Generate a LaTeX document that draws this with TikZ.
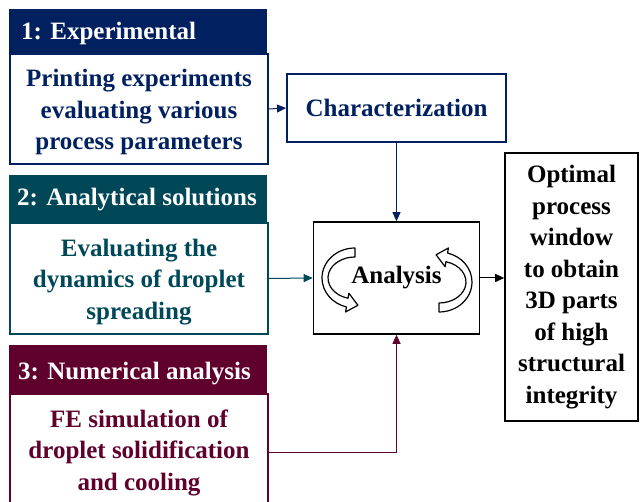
\documentclass[tikz,border=0pt]{standalone}
\usepackage{fontspec}
\setmainfont{Liberation Serif}
\usetikzlibrary{arrows.meta}
\definecolor{cnavy}{RGB}{0,32,96}
\definecolor{cteal}{RGB}{0,72,88}
\definecolor{cmaroon}{RGB}{96,0,44}
\tikzset{
  cyc/.pic={
    \draw[line width=1.2pt, fill=white, line join=round]
      (0,30) arc[start angle=90,end angle=255,x radius=33,y radius=30]
      -- (-9.43,-33.99) -- (2.91,-27.24) -- (-6.11,-15.27) -- (-6.99,-20.28)
      arc[start angle=255,end angle=90,x radius=27,y radius=21] -- cycle;
  }
}
\begin{document}
\begin{tikzpicture}[x=1pt,y=1pt,
  bigfont/.style={font=\fontsize{25}{31.5}\selectfont\bfseries},
  hdr/.style={rectangle, minimum width=258pt, inner sep=0pt, anchor=north west},
  hdrtext/.style={bigfont, text=white, inner sep=0pt, anchor=base west},
  body/.style={rectangle, draw, line width=2pt, minimum width=258pt, inner sep=0pt, anchor=north west, align=center, bigfont},
  blackbox/.style={rectangle, draw=black, line width=1.6pt, inner sep=0pt, align=center, bigfont},
  conn/.style={line width=1pt, -{Triangle[length=9pt,width=8pt]}},
]
\useasboundingbox (0,0) rectangle (641,502);
% box 1
\node[hdr, fill=cnavy, minimum height=44pt] (h1) at (9,493) {};
\node[hdrtext] (h1t) at (21,462) {1: Experimental};
\node[body, draw=cnavy, text=cnavy, minimum height=110pt] (b1) at (9,449)
  {\rule{0pt}{24pt}Printing experiments\\evaluating various\\process parameters};
% box 2
\node[hdr, fill=cteal, minimum height=47pt] (h2) at (9,327) {};
\node[hdrtext] (h2t) at (17,296) {2: Analytical solutions};
\node[body, draw=cteal, text=cteal, minimum height=111pt] (b2) at (9,280)
  {\rule{0pt}{24pt}Evaluating the\\dynamics of droplet\\spreading};
% box 3
\node[hdr, fill=cmaroon, minimum height=48pt] (h3) at (9,157) {};
\node[hdrtext] (h3t) at (18,122) {3: Numerical analysis};
\node[body, draw=cmaroon, text=cmaroon, minimum height=117pt] (b3) at (9,109)
  {FE simulation of\\droplet solidification\\and cooling};
% characterization
\node[rectangle, draw=cnavy, line width=2pt, text=cnavy, bigfont, inner sep=0pt,
  minimum width=219pt, minimum height=68pt] (char) at (396.5,394) {Characterization};
% analysis
\node[blackbox, minimum width=166pt, minimum height=112pt] (ana) at (396.5,224) {Analysis};
\pic at (355,224) {cyc};
\pic[rotate=180] at (439,220) {cyc};
% optimal
\node[blackbox, minimum width=133pt, minimum height=268pt] (opt) at (571.5,215)
  {Optimal\\process\\window\\to obtain\\3D parts\\of high\\structural\\integrity};
% connectors
\draw[conn, cnavy] (b1.east) -- (char.west);
\draw[conn, cnavy] (char.south) -- (ana.north);
\draw[conn, cteal] (b2.east) -- (ana.west);
\draw[conn, cmaroon] (b3.east) -| (ana.south);
\draw[conn, black] (ana.east) -- (ana.east -| opt.west);
\end{tikzpicture}
\end{document}
